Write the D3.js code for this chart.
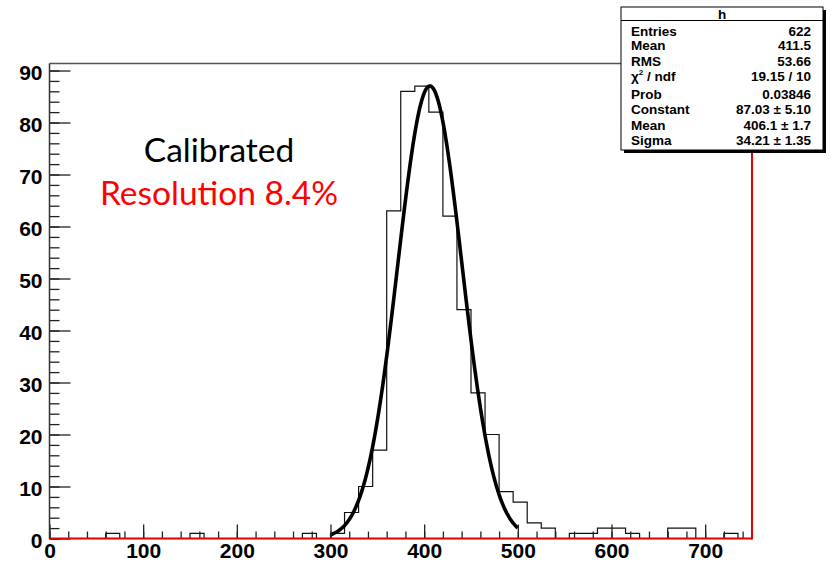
<!DOCTYPE html>
<html>
<head>
<meta charset="utf-8">
<script src="https://cdn.jsdelivr.net/npm/d3@7"></script>
<style>
  body { margin: 0; background: #fff; }
  svg { display: block; }
  .tick-label { font-family: "Liberation Sans", Arial, sans-serif; font-weight: bold; font-size: 21px; fill: #000; }
  .stats text { font-family: "Liberation Sans", Arial, sans-serif; font-weight: bold; font-size: 13.5px; fill: #000; }
</style>
</head>
<body>
<svg id="chart" width="831" height="565"></svg>
<script>
// Histogram "h": 50 bins of width 15 over [0, 750]; only non-empty bins listed
const binWidth = 15;
const xRange = [0, 750];
const binStarts = [60, 150, 270, 300, 315, 330, 345, 360, 375, 390, 405, 420, 435, 450, 465,
                   480, 495, 510, 525, 555, 570, 585, 600, 615, 660, 675, 720];
const binCounts = [1, 1, 1, 1, 5, 10, 17, 63, 86, 87, 82, 62, 44, 28, 20,
                   9, 7, 3, 2, 1, 1, 2, 2, 1, 2, 2, 1];

// Gaussian fit result and its fit range
const fitConstant = 87.03;
const fitMean = 406.1;
const fitSigma = 34.21;
const fitRange = [300, 500];

// Axis ticks
const xMajorTicks = [0, 100, 200, 300, 400, 500, 600, 700];
const xMinorTicks = d3.range(0, 751, 20);
const yMajorTicks = [0, 10, 20, 30, 40, 50, 60, 70, 80, 90];
const yMinorTicks = d3.range(0, 91, 2);

// Statistics box rows
const statsTitle = "h";
const statsLabels = ["Entries", "Mean", "RMS", "χ² / ndf", "Prob", "Constant", "Mean", "Sigma"];
const statsValues = ["622", "411.5", "53.66", "19.15 / 10", "0.03846", "87.03 ± 5.10", "406.1 ± 1.7", "34.21 ± 1.35"];

// Annotation text
const annotationLines = ["Calibrated", "Resolution 8.4%"];
const annotationColors = ["#000000", "#ff0000"];

const svg = d3.select("#chart");

const frame = { left: 49.5, right: 752, top: 63.5, bottom: 538.5 };
const yMax = 1.05 * d3.max(binCounts);

const x = d3.scaleLinear().domain(xRange).range([frame.left, frame.right]);
const y = d3.scaleLinear().domain([0, yMax]).range([frame.bottom, frame.top]);

// Fill out all 50 bins (empty ones at zero)
const nBins = Math.round((xRange[1] - xRange[0]) / binWidth);
const bins = d3.range(nBins).map(i => {
  const lo = xRange[0] + i * binWidth;
  const k = binStarts.indexOf(lo);
  return { lo, hi: lo + binWidth, count: k >= 0 ? binCounts[k] : 0 };
});

// Step outline of the histogram
const stepPoints = [[xRange[0], 0]];
bins.forEach(b => { stepPoints.push([b.lo, b.count], [b.hi, b.count]); });
stepPoints.push([xRange[1], 0]);

const line = d3.line().x(d => x(d[0])).y(d => y(d[1]));

svg.append("path")
  .attr("d", line(stepPoints))
  .attr("fill", "none")
  .attr("stroke", "#111")
  .attr("stroke-width", 1.2);

// Fitted Gaussian over the fit range
const gauss = v => fitConstant * Math.exp(-0.5 * Math.pow((v - fitMean) / fitSigma, 2));
const fitPoints = d3.range(fitRange[0], fitRange[1] + 0.001, 1).map(v => [v, gauss(v)]);
svg.append("path")
  .attr("d", line(fitPoints))
  .attr("fill", "none")
  .attr("stroke", "#000")
  .attr("stroke-width", 3.6)
  .attr("stroke-linejoin", "round");

// Y axis: major + minor ticks pointing into the frame
const yAxisMajor = d3.axisLeft(y).tickValues(yMajorTicks).tickSizeInner(-21).tickSizeOuter(0).tickPadding(7);
const yAxisMinor = d3.axisLeft(y).tickValues(yMinorTicks).tickSizeInner(-10).tickSizeOuter(0).tickFormat("");
const gyMinor = svg.append("g").attr("transform", `translate(${frame.left},0)`).call(yAxisMinor);
const gy = svg.append("g").attr("transform", `translate(${frame.left},0)`).call(yAxisMajor);

// X axis: major + minor ticks pointing up
const xAxisMajor = d3.axisBottom(x).tickValues(xMajorTicks).tickSizeInner(-14).tickSizeOuter(0).tickPadding(5);
const xAxisMinor = d3.axisBottom(x).tickValues(xMinorTicks).tickSizeInner(-7).tickSizeOuter(0).tickFormat("");
const gxMinor = svg.append("g").attr("transform", `translate(0,${frame.bottom})`).call(xAxisMinor);
const gx = svg.append("g").attr("transform", `translate(0,${frame.bottom})`).call(xAxisMajor);

[gy, gyMinor, gx, gxMinor].forEach(g => {
  g.select(".domain").remove();
  g.selectAll(".tick line").attr("stroke", "#222").attr("stroke-width", 1.3);
});
gy.selectAll(".tick text").attr("class", "tick-label").attr("dy", "0.42em");
gx.selectAll(".tick text").attr("class", "tick-label");

// Frame lines
svg.append("line")
  .attr("x1", frame.left).attr("x2", frame.right)
  .attr("y1", frame.top).attr("y2", frame.top)
  .attr("stroke", "#555").attr("stroke-width", 1.5);
svg.append("line")
  .attr("x1", frame.left).attr("x2", frame.left)
  .attr("y1", frame.top).attr("y2", frame.bottom)
  .attr("stroke", "#333").attr("stroke-width", 1.5);
svg.append("line")
  .attr("x1", frame.left).attr("x2", frame.right)
  .attr("y1", frame.bottom).attr("y2", frame.bottom)
  .attr("stroke", "#e00000").attr("stroke-width", 2);
svg.append("line")
  .attr("x1", frame.right).attr("x2", frame.right)
  .attr("y1", frame.top).attr("y2", frame.bottom + 1)
  .attr("stroke", "#e00000").attr("stroke-width", 2);

// Annotation
const annot = svg.append("g");
annot.selectAll("text")
  .data(annotationLines)
  .join("text")
  .attr("x", 219)
  .attr("y", (d, i) => 161.5 + i * 43.5)
  .attr("text-anchor", "middle")
  .attr("font-family", "Lato, 'Open Sans', sans-serif")
  .attr("font-size", 33.5)
  .attr("fill", (d, i) => annotationColors[i])
  .text(d => d);

// Statistics box
const box = { x: 621, y: 7, w: 202, h: 143, titleH: 13.5 };
const stats = svg.append("g").attr("class", "stats");
stats.append("rect")
  .attr("x", box.x + 3).attr("y", box.y + 3)
  .attr("width", box.w).attr("height", box.h)
  .attr("fill", "#000");
stats.append("rect")
  .attr("x", box.x).attr("y", box.y)
  .attr("width", box.w).attr("height", box.h)
  .attr("fill", "#fff").attr("stroke", "#000").attr("stroke-width", 1);
stats.append("line")
  .attr("x1", box.x).attr("x2", box.x + box.w)
  .attr("y1", box.y + box.titleH).attr("y2", box.y + box.titleH)
  .attr("stroke", "#000").attr("stroke-width", 1);
stats.append("text")
  .attr("x", box.x + box.w / 2).attr("y", box.y + 11.5)
  .attr("text-anchor", "middle")
  .attr("font-size", 12.5)
  .text(statsTitle);

const rowBaselines = [35.5, 50, 65.5, 81, 98.5, 114, 129.5, 145];
stats.selectAll("text.lbl")
  .data(statsLabels)
  .join("text")
  .attr("class", "lbl")
  .attr("x", box.x + 10)
  .attr("y", (d, i) => rowBaselines[i])
  .each(function(d) {
    const t = d3.select(this);
    if (d.startsWith("χ")) {
      t.append("tspan").text("χ");
      t.append("tspan").attr("dy", -6).attr("font-size", 8).text("2");
      t.append("tspan").attr("dy", 6).text(" / ndf");
    } else {
      t.text(d);
    }
  });
stats.selectAll("text.val")
  .data(statsValues)
  .join("text")
  .attr("class", "val")
  .attr("x", box.x + 190)
  .attr("y", (d, i) => rowBaselines[i])
  .attr("text-anchor", "end")
  .text(d => d);
</script>
</body>
</html>
